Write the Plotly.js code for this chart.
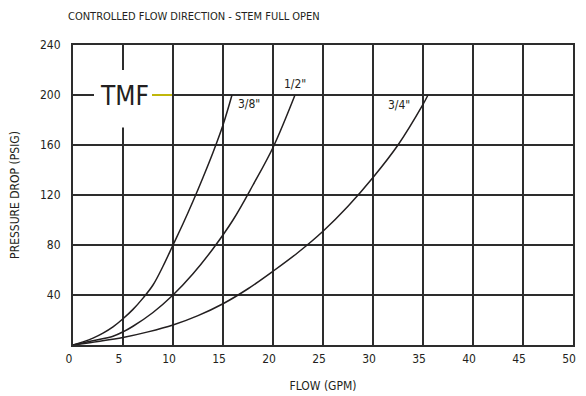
<!DOCTYPE html>
<html><head><meta charset="utf-8">
<script src="https://cdn.plot.ly/plotly-3.0.1.min.js"></script>
<style>html,body{margin:0;padding:0;background:#fff}#chart{width:586px;height:396px}</style>
</head><body><div id="chart"></div>
<script>
const FONT = "'Liberation Sans Narrow', 'DejaVu Sans Condensed', sans-serif";
const INK = '#231f20';
const GRID = '#2d2d2d';

// 3/8" valve
const flow38 = [0, 1, 2, 3, 4, 5, 6, 7, 8, 9, 10, 11, 12, 13, 14, 15, 15.9];
const drop38 = [0, 2.5, 5.5, 9.5, 14.5, 21, 28.5, 37.5, 48, 63, 80, 97, 115, 134, 154, 176, 200];
// 1/2" valve
const flow12 = [0, 1, 2, 4, 5, 6, 8, 10, 12, 14, 16, 18, 20, 22.2];
const drop12 = [0, 1.6, 3.4, 7, 10.5, 15, 26, 40, 57, 77, 100, 128, 158, 200];
// 3/4" valve
const flow34 = [0, 2.5, 5, 7.5, 10, 12.5, 15, 17.5, 20, 22.5, 25, 27.5, 30, 32.5, 35, 35.5];
const drop34 = [0, 2.8, 6, 10.5, 16, 23.5, 33, 45, 59, 74, 91, 111, 134, 160, 192.5, 200];

const xTicks = [0, 5, 10, 15, 20, 25, 30, 35, 40, 45, 50];
const yTicks = [40, 80, 120, 160, 200, 240];

const mk = (x, y, name) => ({x, y, name, type: 'scatter', mode: 'lines',
  line: {color: INK, width: 1.5, shape: 'spline', smoothing: 1}, hoverinfo: 'skip'});

const data = [mk(flow38, drop38, '3/8"'), mk(flow12, drop12, '1/2"'), mk(flow34, drop34, '3/4"')];

const tf = {family: FONT, size: 12, color: INK};

const layout = {
  width: 586, height: 396,
  margin: {l: 73, r: 13, t: 45, b: 51},
  paper_bgcolor: '#fff', plot_bgcolor: '#fff',
  showlegend: false,
  font: tf,
  title: {text: 'CONTROLLED FLOW DIRECTION - STEM FULL OPEN', font: {family: FONT, size: 11, color: INK},
    xref: 'container', yref: 'container', x: 68/586, xanchor: 'left', y: 1 - 16/396, yanchor: 'middle'},
  xaxis: {range: [0, 50], tickvals: xTicks, ticktext: xTicks.map(String), showgrid: true,
    gridcolor: GRID, gridwidth: 2, showline: true, linecolor: GRID, linewidth: 2, mirror: true,
    zeroline: false, ticks: '', ticklabelshift: -4, ticklabelstandoff: 2, tickfont: tf,
    title: {text: 'FLOW (GPM)', font: tf, standoff: 16}},
  yaxis: {range: [0, 240], tickvals: yTicks, ticktext: yTicks.map(String), showgrid: true,
    gridcolor: GRID, gridwidth: 2, showline: true, linecolor: GRID, linewidth: 2, mirror: true,
    zeroline: false, ticks: '', ticklabelstandoff: 8, tickfont: tf,
    title: {text: 'PRESSURE DROP (PSIG)', font: tf, standoff: 18}},
  shapes: [
    {type: 'rect', xref: 'x', yref: 'y', x0: 2.1, x1: 7.9, y0: 174, y1: 220, layer: 'between',
     fillcolor: '#fff', line: {width: 0}},
    {type: 'line', xref: 'x', yref: 'y', x0: 7.9, x1: 9.9, y0: 200, y1: 200, layer: 'between',
     line: {color: '#f2e600', width: 1.5}}
  ],
  annotations: [
    {text: 'TMF', xref: 'x', yref: 'y', x: 5.1, y: 199, showarrow: false,
     font: {family: FONT, size: 26, color: INK}},
    {text: '3/8"', xref: 'x', yref: 'y', x: 16.3, y: 193, xanchor: 'left', showarrow: false, font: tf},
    {text: '1/2"', xref: 'x', yref: 'y', x: 22.2, y: 209, showarrow: false, font: tf},
    {text: '3/4"', xref: 'x', yref: 'y', x: 32.6, y: 192, showarrow: false, font: tf}
  ]
};

Plotly.newPlot('chart', data, layout, {displayModeBar: false});
</script></body></html>
